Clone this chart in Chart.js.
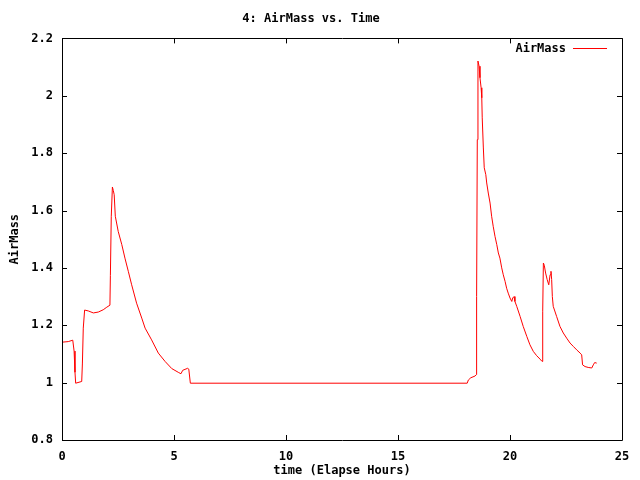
<!DOCTYPE html>
<html>
<head>
<meta charset="utf-8">
<script src="https://cdn.jsdelivr.net/npm/chart.js@4/dist/chart.umd.min.js"></script>
<style>
  html, body { margin: 0; padding: 0; background: #fff; }
  #wrap { width: 640px; height: 480px; }
</style>
</head>
<body>
<div id="wrap"><canvas id="myChart" width="640" height="480"></canvas></div>
<script>
// elapsed time in hours
const hours = [
    0, 0.28, 0.48, 0.54, 0.58, 0.61, 0.88, 0.91, 0.95, 1.01,
    1.17, 1.40, 1.62, 1.84, 2.0, 2.14, 2.16, 2.2, 2.25, 2.29,
    2.33, 2.38, 2.51, 2.67, 2.81, 2.96, 3.11, 3.33, 3.56, 3.71,
    4.0, 4.3, 4.6, 4.9, 5.19, 5.31, 5.39, 5.61, 5.66, 5.73,
    10, 15, 18.09, 18.14, 18.25, 18.44, 18.50, 18.51, 18.54, 18.57,
    18.62, 18.66, 18.71, 18.74, 18.76, 18.81, 18.85, 18.92, 18.96, 19.03,
    19.11, 19.18, 19.25, 19.33, 19.41, 19.48, 19.55, 19.63, 19.70, 19.78,
    19.85, 19.92, 20.0, 20.08, 20.12, 20.18, 20.22, 20.30, 20.45, 20.59,
    20.75, 20.89, 21.04, 21.19, 21.34, 21.43, 21.46, 21.49, 21.53, 21.59,
    21.66, 21.73, 21.79, 21.83, 21.86, 21.89, 21.93, 22.08, 22.23, 22.38,
    22.53, 22.68, 22.83, 22.98, 23.13, 23.20, 23.24, 23.35, 23.49, 23.65,
    23.72, 23.78, 23.87
];
const airMass = [
    1.141, 1.143, 1.148, 1.11, 1.036, 0.998, 1.004, 1.065, 1.19, 1.253,
    1.25, 1.243, 1.246, 1.254, 1.263, 1.270, 1.373, 1.58, 1.682, 1.67,
    1.655, 1.58, 1.527, 1.481, 1.434, 1.388, 1.341, 1.277, 1.225, 1.19,
    1.149, 1.103, 1.074, 1.049, 1.036, 1.031, 1.043, 1.050, 1.047, 0.998,
    0.998, 0.998, 0.998, 1.009, 1.017, 1.023, 1.028, 1.30, 1.847, 2.121,
    2.103, 2.063, 2.028, 1.993, 1.923, 1.818, 1.749, 1.725, 1.696, 1.661,
    1.626, 1.58, 1.545, 1.51, 1.481, 1.452, 1.434, 1.4, 1.376, 1.353,
    1.329, 1.312, 1.295, 1.283, 1.295, 1.30, 1.283, 1.266, 1.231, 1.196,
    1.161, 1.132, 1.109, 1.094, 1.082, 1.074, 1.249, 1.417, 1.409, 1.382,
    1.359, 1.341, 1.376, 1.388, 1.359, 1.30, 1.266, 1.231, 1.196, 1.173,
    1.155, 1.138, 1.126, 1.114, 1.103, 1.097, 1.062, 1.056, 1.053, 1.051,
    1.062, 1.070, 1.068
];
const xTicks = [0, 5, 10, 15, 20, 25];
const yTicks = [0.8, 1, 1.2, 1.4, 1.6, 1.8, 2, 2.2];

const monoFont = { family: 'DejaVu Sans Mono', size: 12, weight: 'bold' };

// gnuplot style frame, inward ticks and inner legend
const framePlugin = {
    id: 'frame',
    afterDraw(chart) {
        const ctx = chart.ctx;
        const a = chart.chartArea;
        const xs = chart.scales.x, ys = chart.scales.y;
        ctx.save();
        ctx.strokeStyle = '#000';
        ctx.lineWidth = 1;
        ctx.beginPath();
        ctx.rect(Math.round(a.left) + 0.5, Math.round(a.top) + 0.5,
            Math.round(a.right - a.left), Math.round(a.bottom - a.top));
        xTicks.forEach(v => {
            const px = Math.round(xs.getPixelForValue(v)) + 0.5;
            ctx.moveTo(px, a.bottom); ctx.lineTo(px, a.bottom - 5);
            ctx.moveTo(px, a.top); ctx.lineTo(px, a.top + 5);
        });
        yTicks.forEach(v => {
            const py = Math.round(ys.getPixelForValue(v)) + 0.5;
            ctx.moveTo(a.left, py); ctx.lineTo(a.left + 5, py);
            ctx.moveTo(a.right, py); ctx.lineTo(a.right - 5, py);
        });
        ctx.stroke();

        // legend
        ctx.font = 'bold 12px "DejaVu Sans Mono"';
        ctx.fillStyle = '#000';
        ctx.textAlign = 'right';
        ctx.textBaseline = 'middle';
        ctx.fillText('AirMass', 566, 49);
        ctx.strokeStyle = '#ff0000';
        ctx.beginPath();
        ctx.moveTo(573, 48.5); ctx.lineTo(607, 48.5);
        ctx.stroke();
        ctx.restore();
    }
};

const data = {
    datasets: [{
        label: 'AirMass',
        data: hours.map((h, i) => ({ x: h, y: airMass[i] })),
        borderColor: '#ff0000',
        backgroundColor: '#ff0000',
        borderWidth: 1,
        pointRadius: 0,
        tension: 0
    }]
};

const config = {
    type: 'line',
    data: data,
    options: {
        responsive: false,
        animation: false,
        layout: { padding: { left: 0, right: 18, top: 0, bottom: 0 } },
        plugins: {
            title: {
                display: true,
                text: '4: AirMass vs. Time',
                color: '#000',
                font: monoFont,
                padding: { top: 12, bottom: 12 }
            },
            legend: { display: false },
            tooltip: { enabled: false }
        },
        scales: {
            x: {
                type: 'linear',
                min: 0,
                max: 25,
                afterBuildTicks: s => { s.ticks = xTicks.map(v => ({ value: v })); },
                afterFit: s => { s.height = 40; },
                grid: { display: false, drawTicks: false },
                border: { display: false },
                ticks: { color: '#000', font: monoFont, padding: 10, maxRotation: 0 },
                title: {
                    display: true,
                    text: 'time (Elapse Hours)',
                    color: '#000',
                    font: monoFont,
                    padding: { top: 0, bottom: 2 }
                }
            },
            y: {
                min: 0.8,
                max: 2.2,
                afterBuildTicks: s => { s.ticks = yTicks.map(v => ({ value: v })); },
                afterFit: s => { s.width = 62; },
                grid: { display: false, drawTicks: false },
                border: { display: false },
                ticks: {
                    color: '#000',
                    font: monoFont,
                    padding: 9,
                    callback: v => String(+v.toFixed(1))
                },
                title: {
                    display: true,
                    text: 'AirMass',
                    color: '#000',
                    font: monoFont,
                    padding: { top: 8, bottom: 0 }
                }
            }
        }
    },
    plugins: [framePlugin]
};

var myChart = new Chart(
    document.getElementById('myChart'),
    config
);
</script>
</body>
</html>
